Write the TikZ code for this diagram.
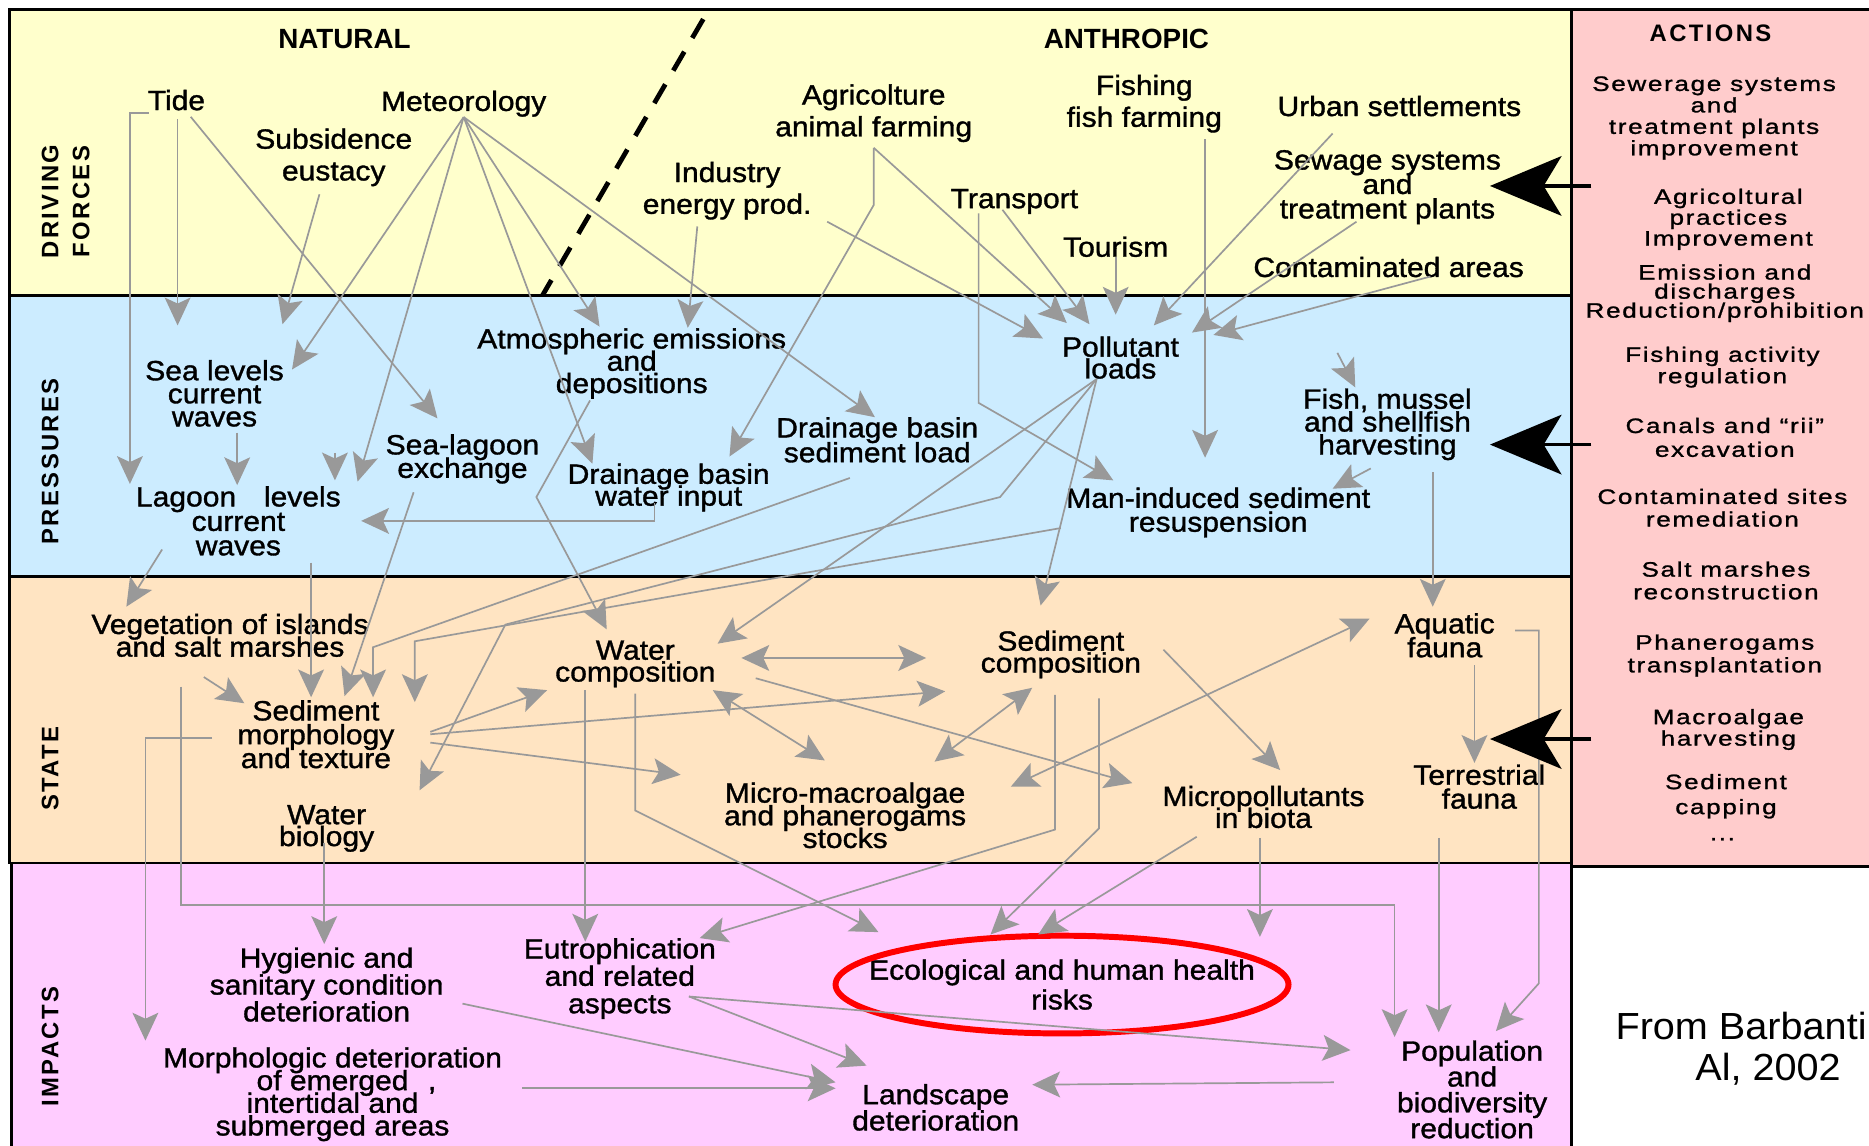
\documentclass[tikz,border=0pt]{standalone}
\usepackage{fontspec}
\setmainfont{Liberation Sans}[FakeStretch=1.08,FakeBold=1.2]
\newfontfamily\hdfont{Liberation Sans}
\newfontfamily\bandfont{Liberation Sans}[LetterSpace=10]
\newfontfamily\actfont{Liberation Sans}[FakeStretch=1.25,LetterSpace=8,FakeBold=1.2]
\newfontfamily\srcfont{Liberation Sans}[FakeStretch=1.05]
\usetikzlibrary{arrows.meta}
\setlength{\lineskiplimit}{-100pt}
\definecolor{cdrive}{HTML}{FFFFCC}
\definecolor{cpress}{HTML}{CCECFF}
\definecolor{cstate}{HTML}{FFE4C2}
\definecolor{cimpact}{HTML}{FFCCFF}
\definecolor{cact}{HTML}{FFCCCC}
\definecolor{lgray}{HTML}{999999}
\tikzset{
  lab/.style={inner sep=0pt, align=center, font=\fontsize{14}{#1}\selectfont},
  lab/.default=16,
  act/.style={inner sep=0pt, align=center, font=\actfont\fontsize{10.5}{#1}\selectfont},
  act/.default=10.8,
  band/.style={inner sep=0pt, align=center, rotate=90, font=\bandfont\bfseries\fontsize{12}{15.6}\selectfont},
  hdr/.style={inner sep=0pt, font=\hdfont\bfseries\fontsize{14}{16}\selectfont},
  bandbox/.style={draw=black, line width=1.5pt},
  gar/.style={draw=lgray, line width=0.85pt, -{Stealth[length=14pt,width=13pt,inset=3pt]}},
  gdbl/.style={draw=lgray, line width=0.85pt, {Stealth[length=14pt,width=13pt,inset=3pt]}-{Stealth[length=14pt,width=13pt,inset=3pt]}},
  actarr/.style={draw=black, line width=1.8pt, -{Stealth[length=36pt,width=30pt,inset=9pt]}},
}
\begin{document}
\begin{tikzpicture}[x=0.6pt,y=-0.6pt]
\useasboundingbox (0,0) rectangle (1568,961);
\fill[white] (0,0) rectangle (1568,961);
% bands
\draw[bandbox, fill=cdrive] (8,8) rectangle (1318,248);
\draw[bandbox, fill=cpress] (8,248) rectangle (1318,484);
\draw[bandbox, fill=cstate] (8,484) rectangle (1318,724);
\draw[bandbox, fill=cimpact] (10,724) rectangle (1318,980);
\draw[bandbox, fill=cact] (1318,8) rectangle (1600,727);
% dashed divider
\draw[line width=2.4pt, dash pattern=on 11pt off 8pt] (590,16) -- (455,248);

% ---------- nodes ----------
\node[hdr] (natural) at (289,33) {NATURAL};
\node[hdr] (anthropic) at (945,33) {ANTHROPIC};
\node[hdr, font=\bandfont\bfseries\fontsize{12}{14}\selectfont] (actions) at (1435,28) {ACTIONS};

\node[band] (dfl) at (55,169) {DRIVING\\FORCES};
\node[band] (prl) at (42,387) {PRESSURES};
\node[band] (stl) at (42,645) {STATE};
\node[band] (iml) at (42,878) {IMPACTS};

% driving forces
\node[lab] (tide) at (148,84) {Tide};
\node[lab] (met) at (389,87) {Meteorology};
\node[lab] (subs) at (280,132) {Subsidence\\eustacy};
\node[lab] (agri) at (733,95) {Agricolture\\animal farming};
\node[lab] (indu) at (610,160) {Industry\\energy prod.};
\node[lab] (fishf) at (960,87) {Fishing\\fish farming};
\node[lab] (urban) at (1174,89) {Urban settlements};
\node[lab=12.3] (sewage) at (1164,157) {Sewage systems\\and\\treatment plants};
\node[lab] (transp) at (851,169) {Transport};
\node[lab] (tour) at (936,207) {Tourism};
\node[lab] (contam) at (1165,224) {Contaminated areas};

% pressures
\node[lab=11.6] (sealev) at (180,330) {Sea levels\\current\\waves};
\node[lab=12.3] (lagoon) at (200,437) {Lagoon\quad levels\\current\\waves};
\node[lab=11.8] (sealag) at (388,385) {Sea-lagoon\\exchange};
\node[lab=11.2] (atmo) at (530,305) {Atmospheric emissions\\and\\depositions};
\node[lab=11] (drainw) at (561,409) {Drainage basin\\water input};
\node[lab=12.5] (drains) at (736,369) {Drainage basin\\sediment load};
\node[lab=11] (pollut) at (940,300) {Pollutant\\loads};
\node[lab=11.5] (fishh) at (1164,356) {Fish, mussel\\and shellfish\\harvesting};
\node[lab=12] (manind) at (1022,430) {Man-induced sediment\\resuspension};

% state
\node[lab=11.4] (veget) at (193,533) {Vegetation of islands\\and salt marshes};
\node[lab=12] (sedmorph) at (265,616) {Sediment\\morphology\\and texture};
\node[lab=11] (waterbio) at (274,695) {Water\\biology};
\node[lab=11] (watercomp) at (533,557) {Water\\composition};
\node[lab=11] (sedcomp) at (890,549) {Sediment\\composition};
\node[lab=11.4] (micro) at (709,684) {Micro-macroalgae\\and phanerogams\\stocks};
\node[lab=11] (micropoll) at (1060,677) {Micropollutants\\in biota};
\node[lab=12] (aquatic) at (1212,533) {Aquatic\\fauna};
\node[lab=12] (terres) at (1241,660) {Terrestrial\\fauna};

% impacts
\node[lab=13.5] (hyg) at (274,826) {Hygienic and\\sanitary condition\\deterioration};
\node[lab=13.8] (eutro) at (520,821) {Eutrophication\\and related\\aspects};
\node[lab=15] (eco) at (891,826) {Ecological and human health\\risks};
\node[lab=11.4] (morph) at (279,918) {Morphologic deterioration\\of emerged\rlap{\hspace{0.7em},}\\intertidal and\\submerged areas};
\node[lab=13.2] (landsc) at (785,929) {Landscape\\deterioration};
\node[lab=13] (popul) at (1235,914) {Population\\and\\biodiversity\\reduction};
\draw[red, line width=3pt] (eco.center) ellipse [x radius=190, y radius=41];

% actions
\node[act] (a1) at (1438,99) {Sewerage systems\\and\\treatment plants\\improvement};
\node[act=10.5] (a2) at (1450,184) {Agricoltural\\practices\\Improvement};
\node[act=9.6] (a3) at (1447,246) {Emission and\\discharges\\Reduction/prohibition};
\node[act] (a4) at (1445,308) {Fishing activity\\regulation};
\node[act=12] (a5) at (1447,367) {Canals and “rii”\\excavation};
\node[act=11.4] (a6) at (1445,426) {Contaminated sites\\remediation};
\node[act=11.4] (a7) at (1448,487) {Salt marshes\\reconstruction};
\node[act=11.4] (a8) at (1447,550) {Phanerogams\\transplantation};
\node[act] (a9) at (1450,612) {Macroalgae\\harvesting};
\node[act=12.6] (a10) at (1448,668) {Sediment\\capping};
\node[act] (a11) at (1445,704) {...};

\node[anchor=west, inner sep=0pt, font=\srcfont\fontsize{19}{22}\selectfont] (src1) at (1355,861) {From Barbanti};
\node[anchor=west, inner sep=0pt, font=\srcfont\fontsize{19}{22}\selectfont] (src2) at (1422,897) {Al, 2002};

% ---------- connectors: driving forces -> pressures ----------
\draw[gar] (125,95) -- (109,95) -- (109,406);
\draw[gar] (149,100) -- (149,273);
\draw[gar] (160,98) -- (367,351);
\draw[gar] (268,163) -- (237,272);
\draw[gar] (met.south) -- (245,310);
\draw[gar] (met.south) -- (300,404);
\draw[gar] (281,380) -- (281,403);
\draw[gar] (met.south) -- (497,389);
\draw[gar] (met.south) -- (503,274);
\draw[gar] (met.south) -- (734,350);
\draw[gar] (585,190) -- (577,275);
\draw[gar] (694,186) -- (875,284);
\draw[gar] (733,124) -- (733,172) -- (612,383);
\draw[gar] (733,124) -- (895,271);
\draw[gar] (821,179) -- (821,338) -- (934,403);
\draw[gar] (841,176) -- (914,272);
\draw[gar] (936,216) -- (936,264);
\draw[gar] (1011,117) -- (1011,384);
\draw[gar] (1118,112) -- (968,273);
\draw[gar] (1138,186) -- (1000,279);
\draw[gar] (1200,232) -- (1018,281);

% ---------- pressures ----------
\draw[gar] (199,363) -- (199,407);
\draw[gar] (549,422) -- (549,437) -- (303,437);
\draw[gar] (495,336) -- (450,417) -- (509,528);
\draw[gar] (347,413) -- (289,584);
\draw[gar] (261,472) -- (261,585);
\draw[gar] (136,461) -- (106,509);
\draw[gar] (713,401) -- (313,543) -- (313,585);
\draw[gar] (890,443) -- (348,538) -- (348,589);
\draw[gar] (920,318) -- (839,417) -- (424,524) -- (352,663);
\draw[gar] (920,318) -- (602,540);
\draw[gar] (920,318) -- (873,508);
\draw[gar] (1150,393) -- (1118,410);
\draw[gar] (1202,396) -- (1202,509);
\draw[gar] (1122,296) -- (1137,325);

% ---------- state ----------
\draw[gar] (171,568) -- (205,590);
\draw[gar] (178,619) -- (122,619) -- (122,873);
\draw[gar] (152,576) -- (152,759) -- (1170,759) -- (1170,870);
\draw[gar] (272,707) -- (272,792);
\draw[gar] (491,579) -- (491,790);
\draw[gar] (533,582) -- (533,680) -- (737,782);
\draw[gdbl] (622,552) -- (777,552);
\draw[gar] (361,614) -- (459,579);
\draw[gar] (361,616) -- (793,580);
\draw[gar] (361,623) -- (571,650);
\draw[gar] (634,569) -- (950,657);
\draw[gdbl] (598,579) -- (692,638);
\draw[gdbl] (866,577) -- (784,639);
\draw[gar] (976,545) -- (1074,646);
\draw[gdbl] (848,660) -- (1149,519);
\draw[gar] (1237,558) -- (1237,640);
\draw[gar] (1271,529) -- (1291,529) -- (1291,825) -- (1255,865);
\draw[gar] (1207,703) -- (1207,866);
\draw[gar] (1057,703) -- (1057,786);
\draw[gar] (1004,702) -- (871,784);
\draw[gar] (922,586) -- (922,695) -- (831,784);
\draw[gar] (885,583) -- (885,696) -- (587,787);

% ---------- impacts ----------
\draw[gar] (388,842) -- (701,908);
\draw[gar] (438,913) -- (701,913);
\draw[gar] (578,836) -- (727,894);
\draw[gar] (578,836) -- (1133,881);
\draw[gar] (1119,908) -- (866,910);

% ---------- action arrows ----------
\draw[actarr] (1335,156) -- (1250,156);
\draw[actarr] (1335,373) -- (1250,373);
\draw[actarr] (1335,620) -- (1250,620);
\end{tikzpicture}
\end{document}
